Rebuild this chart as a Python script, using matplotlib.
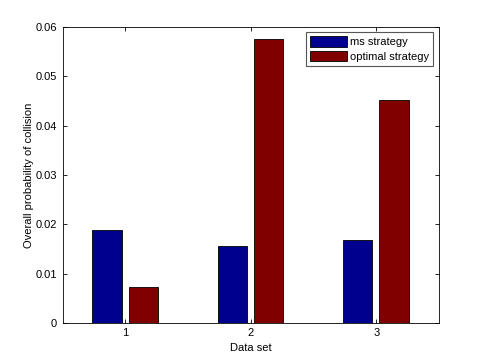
import numpy as np
import matplotlib
matplotlib.use('Agg')
import matplotlib.pyplot as plt

# Data
dataSets = [1, 2, 3]
msStrategy = [0.0189, 0.0155, 0.0168]
optimalStrategy = [0.0072, 0.0575, 0.0451]
yTicks = [0, 0.01, 0.02, 0.03, 0.04, 0.05, 0.06]
yTickLabels = ['0', '0.01', '0.02', '0.03', '0.04', '0.05', '0.06']

plt.rcParams['font.family'] = ['Liberation Sans', 'DejaVu Sans']

fig = plt.figure(figsize=(4.85, 3.64), dpi=100)
ax = fig.add_axes([0.129, 0.113, 0.776, 0.813])

x = np.array(dataSets)
barWidth = 0.232
ax.bar(x - 0.146, msStrategy, barWidth, color='#00008F', edgecolor='black',
       linewidth=0.6, label='ms strategy')
ax.bar(x + 0.142, optimalStrategy, barWidth, color='#800000', edgecolor='black',
       linewidth=0.6, label='optimal strategy')

ax.set_xlim(0.5, 3.5)
ax.set_ylim(0, 0.06)
ax.set_xticks(dataSets)
ax.set_xticklabels([str(d) for d in dataSets])
ax.set_yticks(yTicks)
ax.set_yticklabels(yTickLabels)
ax.tick_params(direction='in', top=True, right=True, labelsize=8, length=3,
               width=0.6, pad=4)
for spine in ax.spines.values():
    spine.set_linewidth(0.6)

ax.set_xlabel('Data set', fontsize=8, labelpad=3)
ax.set_ylabel('Overall probability of collision', fontsize=8, labelpad=1)

leg = ax.legend(loc='upper right', fontsize=8, fancybox=False, framealpha=1,
                edgecolor='#555555', handlelength=3.3, handleheight=1.1,
                handletextpad=0.3, borderpad=0.35, labelspacing=0.3,
                borderaxespad=0.5)
leg.get_frame().set_linewidth(0.8)

fig.savefig('out.png', dpi=100)
